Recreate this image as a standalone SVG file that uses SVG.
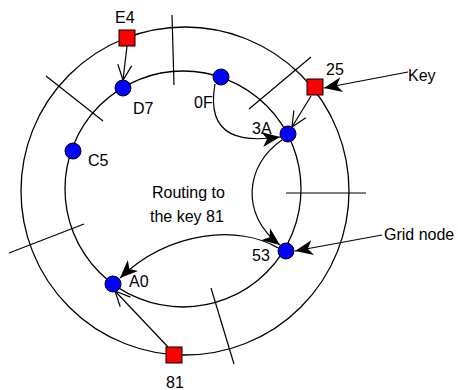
<svg xmlns="http://www.w3.org/2000/svg" width="458" height="390" viewBox="0 0 458 390">
  <style>
    .ring { fill: none; stroke: #000; stroke-width: 1.3; }
    .spoke { stroke: #000; stroke-width: 1.2; }
    .node { fill: #0000ff; stroke: #000; stroke-width: 1; }
    .key { fill: #ff0000; stroke: #000; stroke-width: 1; }
    .edge { fill: none; stroke: #000; stroke-width: 1.2; }
    .open { fill: none; stroke: #000; stroke-width: 1.2; }
    text { font-family: "Liberation Sans", Arial, sans-serif; font-size: 16px; fill: #000; }
  </style>
  <defs>
    <marker id="filled" markerUnits="userSpaceOnUse" markerWidth="19" markerHeight="16" refX="18" refY="7.5" orient="auto" viewBox="0 0 19 16">
      <path d="M0,0 L18,7.5 L0,15 L5,7.5 z" fill="#000"/>
    </marker>
    <marker id="vee" markerUnits="userSpaceOnUse" markerWidth="18" markerHeight="18" refX="16" refY="8" orient="auto" viewBox="0 0 18 16">
      <path d="M1,1 L16,8 L1,15" fill="none" stroke="#000" stroke-width="1.2"/>
    </marker>
  </defs>

  <!-- rings -->
  <g id="rings">
    <circle class="ring" cx="185" cy="191" r="164"/>
    <circle class="ring" cx="183" cy="189" r="118"/>
  </g>

  <!-- zone boundaries -->
  <g id="spokes">
    <line class="spoke" x1="172" y1="15" x2="174" y2="85"/>
    <line class="spoke" x1="46" y1="76" x2="103" y2="121"/>
    <line class="spoke" x1="311" y1="57" x2="249" y2="109"/>
    <line class="spoke" x1="286" y1="193" x2="366" y2="193"/>
    <line class="spoke" x1="9" y1="253" x2="84" y2="224"/>
    <line class="spoke" x1="211" y1="288" x2="234" y2="364"/>
  </g>

  <!-- connectors -->
  <g id="connectors">
    <line class="edge" x1="127" y1="46" x2="123" y2="80" marker-end="url(#vee)"/>
    <line class="edge" x1="311" y1="96" x2="292" y2="127" marker-end="url(#vee)"/>
    <line class="edge" x1="168" y1="347" x2="115" y2="291" marker-end="url(#vee)"/>
    <path class="edge" d="M215,84 C205,140 245,142 280,137" marker-end="url(#filled)"/>
    <path class="edge" d="M282,140 C245,165 240,215 280,245" marker-end="url(#filled)"/>
    <path class="edge" d="M278,248 C240,225 170,230 120,278" marker-end="url(#filled)"/>
    <line class="edge" x1="408" y1="72" x2="324" y2="88" marker-end="url(#filled)"/>
    <line class="edge" x1="382" y1="235" x2="295" y2="251" marker-end="url(#filled)"/>
  </g>

  <!-- keys -->
  <g id="key-E4"><rect class="key" x="119" y="30" width="16" height="16"/><text x="115" y="23">E4</text></g>
  <g id="key-25"><rect class="key" x="307" y="79" width="16" height="16"/><text x="326" y="75">25</text></g>
  <g id="key-81"><rect class="key" x="166" y="347" width="16" height="16"/><text x="166" y="388">81</text></g>

  <!-- grid nodes -->
  <g id="node-D7"><circle class="node" cx="123" cy="88" r="8"/><text x="133" y="114">D7</text></g>
  <g id="node-0F"><circle class="node" cx="221" cy="77" r="8"/><text x="194" y="108">0F</text></g>
  <g id="node-C5"><circle class="node" cx="73" cy="151" r="8"/><text x="88" y="166">C5</text></g>
  <g id="node-3A"><circle class="node" cx="288" cy="134" r="8"/><text x="252" y="134">3A</text></g>
  <g id="node-53"><circle class="node" cx="286" cy="251" r="8"/><text x="252" y="261">53</text></g>
  <g id="node-A0"><circle class="node" cx="113" cy="284" r="8"/><text x="129" y="287">A0</text></g>

  <!-- annotations -->
  <g id="labels">
    <text x="408" y="81">Key</text>
    <text x="384" y="240">Grid node</text>
    <text x="152" y="198">Routing to</text>
    <text x="150" y="222">the key 81</text>
  </g>
</svg>
